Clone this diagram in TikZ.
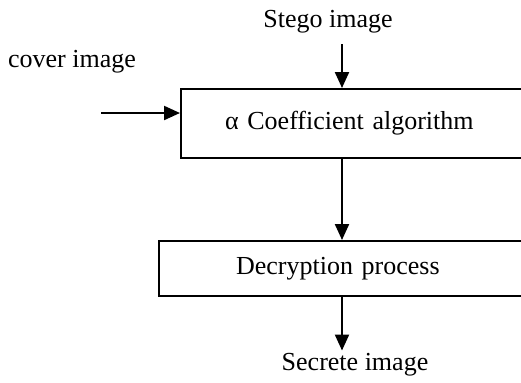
\documentclass[tikz,border=0pt]{standalone}
\usepackage{fontspec}
\setmainfont{Liberation Serif}
\usetikzlibrary{arrows.meta}
\begin{document}
\begin{tikzpicture}[x=0.5pt, y=-0.5pt, font=\fontsize{13}{15}\selectfont,
  blk/.style={draw=black, line width=1.1pt, shape=rectangle, align=left, inner ysep=0pt, anchor=north west},
  flow/.style={line width=1.1pt, -{Triangle[length=8pt, width=7pt]}}]
\useasboundingbox (0,0) rectangle (521,382);
\clip (0,0) rectangle (521,382);

\node[blk, minimum height=34.5pt, inner xsep=22pt, text width=128pt] (alg) at (180,88) {α Coefficient algorithm};
\node[blk, minimum height=27.5pt, inner xsep=38.5pt, text width=120pt] (dec) at (158,240) {Decryption process};

\node (stego) at (328,22) {Stego image};
\node (cover) at (72,62) {cover image};
\node (secret) at (355,365) {Secrete image};

\coordinate (ax) at (342,0);
\coordinate (in) at (101,113);

\draw[flow, shorten <=2pt] (stego.south -| ax) -- (alg.north -| ax);
\draw[flow] (in) -- (in -| alg.west);
\draw[flow] (alg.south -| ax) -- (dec.north -| ax);
\draw[flow] (dec.south -| ax) -- ([yshift=-2pt]secret.north -| ax);

\end{tikzpicture}
\end{document}
